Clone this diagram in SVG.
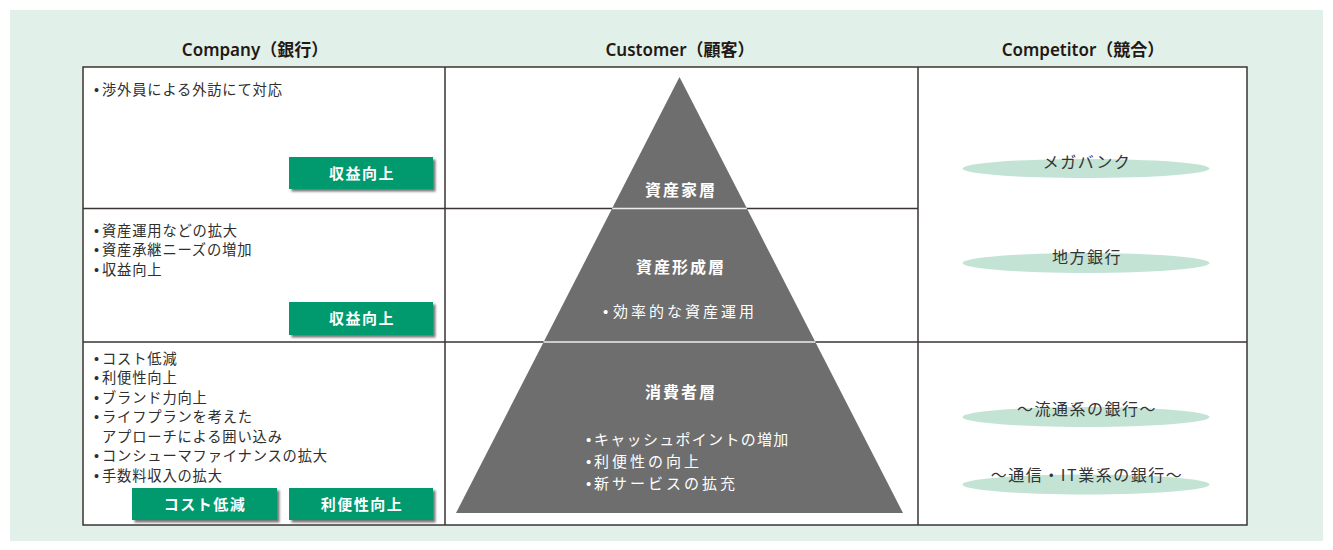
<svg xmlns="http://www.w3.org/2000/svg" width="1333" height="550" viewBox="0 0 1333 550">
<defs>
<style>
.hdr{font-family:"Noto Sans","Noto Sans CJK JP",sans-serif;font-size:17px;font-weight:600;fill:#231815;text-anchor:middle}
.lt{font-family:"Noto Sans CJK JP",sans-serif;font-size:14.3px;fill:#2e2e2e;letter-spacing:0.8px}
.bu{font-family:"Liberation Sans",sans-serif;letter-spacing:0}
.btn{fill:#009a6e}
.bt{font-family:"Noto Sans CJK JP",sans-serif;font-size:15px;font-weight:bold;fill:#fff;text-anchor:middle;letter-spacing:1.5px}
.pt{font-family:"Noto Sans CJK JP",sans-serif;font-size:16px;font-weight:bold;fill:#fff;text-anchor:middle;letter-spacing:2px}
.pl{font-family:"Noto Sans CJK JP",sans-serif;font-size:15px;fill:#fff;letter-spacing:3px}
.el{fill:#c3e3d4}
.et{font-family:"Noto Sans CJK JP",sans-serif;font-size:16px;fill:#333;text-anchor:middle;letter-spacing:1.5px}
.grid{stroke:#3a3533;stroke-width:1.5;fill:none}
</style>
<filter id="sh" x="-10%" y="-20%" width="130%" height="150%">
<feDropShadow dx="2.5" dy="2.5" stdDeviation="1.2" flood-color="#555" flood-opacity="0.8"/>
</filter>
</defs>
<rect x="10" y="10" width="1313" height="531" fill="#e1f0e9"/>
<rect x="83" y="67" width="1164" height="458" fill="#fff"/>

<g id="headers">
<text class="hdr" x="255" y="56">Company（銀行）</text>
<text class="hdr" x="680" y="56">Customer（顧客）</text>
<text class="hdr" x="1083" y="56">Competitor（競合）</text>
</g>

<g id="connectors">
<rect class="grid" x="83" y="67" width="1164" height="458"/>
<line class="grid" x1="445" y1="67" x2="445" y2="525"/>
<line class="grid" x1="918" y1="67" x2="918" y2="525"/>
<line class="grid" x1="83" y1="208.5" x2="918" y2="208.5"/>
<line class="grid" x1="83" y1="342" x2="1247" y2="342"/>
</g>

<g id="pyramid">
<polygon points="679.5,77 903,513 456,513" fill="#6e6e6e"/>
<line x1="612.2" y1="208.5" x2="746.8" y2="208.5" stroke="#eee" stroke-width="1.5"/>
<line x1="543.5" y1="342" x2="815.5" y2="342" stroke="#eee" stroke-width="1.5"/>
</g>

<g id="layer-top">
<text class="pt" x="681" y="195.5">資産家層</text>
</g>
<g id="layer-mid">
<text class="pt" x="681" y="273">資産形成層</text>
<text class="pl" x="603" y="316.5"><tspan class="bu">•</tspan><tspan x="613">効率的な資産運用</tspan></text>
</g>
<g id="layer-bottom">
<text class="pt" x="681" y="398">消費者層</text>
<text class="pl" x="586" y="445" style="letter-spacing:1.3px"><tspan class="bu">•</tspan><tspan x="594">キャッシュポイントの増加</tspan></text>
<text class="pl" x="586" y="466.8"><tspan class="bu">•</tspan><tspan x="594">利便性の向上</tspan></text>
<text class="pl" x="586" y="488.6"><tspan class="bu">•</tspan><tspan x="594">新サービスの拡充</tspan></text>
</g>

<g id="company-row1">
<text class="lt" x="94" y="95"><tspan class="bu">•</tspan><tspan x="102">渉外員による外訪にて対応</tspan></text>
<rect class="btn" x="289" y="157" width="144" height="32" filter="url(#sh)"/>
<text class="bt" x="362" y="179">収益向上</text>
</g>
<g id="company-row2">
<text class="lt" x="94" y="236"><tspan class="bu">•</tspan><tspan x="102">資産運用などの拡大</tspan></text>
<text class="lt" x="94" y="255"><tspan class="bu">•</tspan><tspan x="102">資産承継ニーズの増加</tspan></text>
<text class="lt" x="94" y="274.5"><tspan class="bu">•</tspan><tspan x="102">収益向上</tspan></text>
<rect class="btn" x="289" y="302" width="144" height="33" filter="url(#sh)"/>
<text class="bt" x="362" y="324">収益向上</text>
</g>
<g id="company-row3">
<text class="lt" x="94" y="363.5"><tspan class="bu">•</tspan><tspan x="102">コスト低減</tspan></text>
<text class="lt" x="94" y="383"><tspan class="bu">•</tspan><tspan x="102">利便性向上</tspan></text>
<text class="lt" x="94" y="402.5"><tspan class="bu">•</tspan><tspan x="102">ブランド力向上</tspan></text>
<text class="lt" x="94" y="422"><tspan class="bu">•</tspan><tspan x="102">ライフプランを考えた</tspan></text>
<text class="lt" x="102" y="441.5">アプローチによる囲い込み</text>
<text class="lt" x="94" y="461"><tspan class="bu">•</tspan><tspan x="102">コンシューマファイナンスの拡大</tspan></text>
<text class="lt" x="94" y="480.5"><tspan class="bu">•</tspan><tspan x="102">手数料収入の拡大</tspan></text>
<rect class="btn" x="132" y="488" width="145" height="32" filter="url(#sh)"/>
<text class="bt" x="205" y="510">コスト低減</text>
<rect class="btn" x="289" y="488" width="144" height="32" filter="url(#sh)"/>
<text class="bt" x="362" y="510">利便性向上</text>
</g>

<g id="competitor-megabank">
<ellipse class="el" cx="1086" cy="168.5" rx="123.5" ry="9.5"/>
<text class="et" x="1087" y="168">メガバンク</text>
</g>
<g id="competitor-regional">
<ellipse class="el" cx="1086" cy="263" rx="123.5" ry="10"/>
<text class="et" x="1087" y="262.5">地方銀行</text>
</g>
<g id="competitor-retail">
<ellipse class="el" cx="1086" cy="417" rx="123.5" ry="10"/>
<text class="et" x="1087" y="414.5">〜流通系の銀行〜</text>
</g>
<g id="competitor-it">
<ellipse class="el" cx="1086" cy="484.5" rx="123.5" ry="10"/>
<text class="et" x="1087" y="481">〜通信・IT業系の銀行〜</text>
</g>
</svg>
